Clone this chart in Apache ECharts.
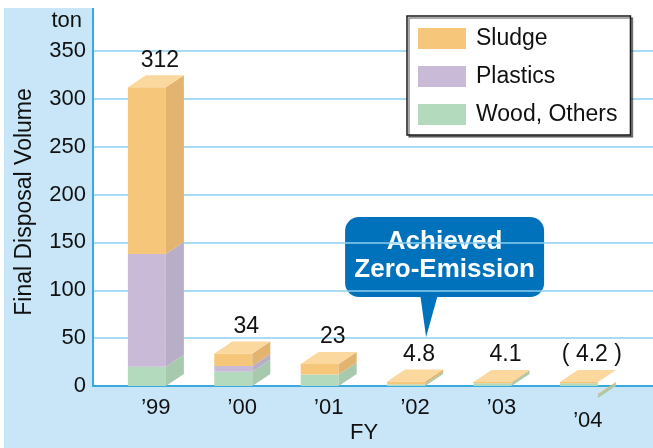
<!DOCTYPE html>
<html>
<head>
<meta charset="utf-8">
<script src="https://cdn.jsdelivr.net/npm/echarts@6/dist/echarts.min.js"></script>
<style>
  html, body { margin: 0; padding: 0; background: #fff; }
  #chart { width: 653px; height: 448px; }
</style>
</head>
<body>
<div id="chart"></div>
<script>
// Final disposal volume (ton) by fiscal year, split by waste type
const years = ['’99', '’00', '’01', '’02', '’03', '’04'];
const sludge = [174, 13, 11, 2.9, 1.2, 1.4];
const plastics = [118, 6, 0, 0, 0, 0];
const wood = [20, 15, 12, 1.9, 2.9, 2.8];
// provisional figures are shown in parentheses
const provisional = [false, false, false, false, false, true];
const yMin = 0, yMax = 350, yStep = 50;
const zeroEmissionYear = 3;

const FONT = '"Liberation Sans", Arial, Helvetica, sans-serif';
const FRONT = 38;    // front face width
const DX = 18;       // depth offset, x
const DY = 12;       // depth offset, y
const BREAK_DROP = 12;

const palette = {
  'Sludge':       { front: '#f6c77a', side: '#e2b46f' },
  'Plastics':     { front: '#c9bbd8', side: '#b9aec8' },
  'Wood, Others': { front: '#b4dabd', side: '#a7c9ad' }
};
const topColor = '#fbd89d';

// stack the layers bottom-up: wood, plastics, sludge
const layers = [['Wood, Others', wood], ['Plastics', plastics], ['Sludge', sludge]];
const base = years.map(() => 0);
const layerData = layers.map(([name, vals]) => {
  const d = vals.map((v, i) => {
    const item = [i, base[i], base[i] + v];
    base[i] += v;
    return item;
  });
  return [name, d];
});
const totals = base.map(t => parseFloat(t.toFixed(1)));

function faceGeom(api, i, lo, hi) {
  const pLo = api.coord([i, lo]);
  const yHi = api.coord([i, hi])[1];
  const x0 = pLo[0] - (FRONT + DX) / 2;
  return { x0: x0, x1: x0 + FRONT, yLo: pLo[1], yHi: yHi, cx: pLo[0] };
}

function layerRenderer(colors) {
  return function (params, api) {
    const i = api.value(0), lo = api.value(1), hi = api.value(2);
    if (!(hi > lo)) return null;
    const g = faceGeom(api, i, lo, hi);
    const s = provisional[i] ? BREAK_DROP : 0;
    return {
      type: 'group',
      children: [
        { type: 'rect', shape: { x: g.x0, y: g.yHi, width: FRONT, height: g.yLo - g.yHi },
          style: { fill: colors.front } },
        { type: 'polygon',
          shape: { points: [[g.x1, g.yHi + s], [g.x1 + DX, g.yHi - DY + s], [g.x1 + DX, g.yLo - DY + s], [g.x1, g.yLo + s]] },
          style: { fill: colors.side } }
      ]
    };
  };
}

function topRenderer(params, api) {
  const i = api.value(0), t = api.value(1);
  const g = faceGeom(api, i, 0, t);
  const txt = provisional[i] ? '( ' + totals[i] + ' )' : String(totals[i]);
  return {
    type: 'group',
    children: [
      { type: 'polygon',
        shape: { points: [[g.x0, g.yHi], [g.x0 + DX, g.yHi - DY], [g.x1 + DX, g.yHi - DY], [g.x1, g.yHi]] },
        style: { fill: topColor } },
      { type: 'text', x: g.cx + 4, y: g.yHi - 27,
        style: { text: txt, fill: '#111', fontSize: 23, fontFamily: FONT, align: 'center', verticalAlign: 'middle' } }
    ]
  };
}

const series = layerData.map(([name, d]) => ({
  name: name,
  type: 'custom',
  xAxisIndex: 1, yAxisIndex: 1,
  encode: { x: 0, y: [1, 2] },
  itemStyle: { color: palette[name].front },
  renderItem: layerRenderer(palette[name]),
  data: d,
  z: 3
}));
series.push({
  name: 'total',
  type: 'custom',
  xAxisIndex: 1, yAxisIndex: 1,
  encode: { x: 0, y: 1 },
  renderItem: topRenderer,
  data: totals.map((t, i) => [i, t]),
  z: 4
});

const baseGraphics = [
  { id: 'panel', type: 'rect', z: -20, silent: true,
    shape: { x: 4, y: 8, width: 649, height: 440 }, style: { fill: '#c8e6f8' } },
  { id: 'plot', type: 'rect', z: -19, silent: true,
    shape: { x: 93, y: 0, width: 560, height: 386 }, style: { fill: '#fff' } },
  { id: 'axisExt', type: 'line', z: 1, silent: true,
    shape: { x1: 93, y1: 8, x2: 93, y2: 52 }, style: { stroke: '#3aa9e0', lineWidth: 2 } },
  { id: 'unit', type: 'text', x: 82, y: 21, silent: true,
    style: { text: 'ton', fill: '#111', fontSize: 22, fontFamily: FONT, align: 'right', verticalAlign: 'middle' } },
  { id: 'ytitle', type: 'text', x: 25, y: 202, rotation: Math.PI / 2, silent: true,
    style: { text: 'Final Disposal Volume', fill: '#111', fontSize: 23, fontFamily: FONT, align: 'center', verticalAlign: 'middle' } },
  { id: 'xtitle', type: 'text', x: 364, y: 433, silent: true,
    style: { text: 'FY', fill: '#111', fontSize: 22, fontFamily: FONT, align: 'center', verticalAlign: 'middle' } }
];

// callout pointing at the year zero emission was reached
function callout(ax, ay) {
  return { id: 'callout', type: 'group', z: 50, silent: true,
    children: [
      { type: 'rect', shape: { x: ax - 70, y: ay - 169, width: 199, height: 80, r: 14 },
        style: { fill: '#0071bb' } },
      { type: 'polygon', shape: { points: [[ax + 5, ay - 92], [ax + 23, ay - 92], [ax + 11, ay - 49]] },
        style: { fill: '#0071bb' } },
      { type: 'text', x: ax + 29.5, y: ay - 144,
        style: { text: 'Achieved', fill: '#fff', fontSize: 26, fontWeight: 'bold', fontFamily: FONT, align: 'center', verticalAlign: 'middle' } },
      { type: 'text', x: ax + 29.5, y: ay - 116,
        style: { text: 'Zero-Emission', fill: '#fff', fontSize: 26, fontWeight: 'bold', fontFamily: FONT, align: 'center', verticalAlign: 'middle' } }
    ] };
}

function buildOption(extraGraphics) {
  return {
    animation: false,
    backgroundColor: '#fff',
    textStyle: { fontFamily: FONT },
    grid: [
      { left: 93, right: 0, top: 51, bottom: 62, outerBoundsMode: 'none', containLabel: false },
      { left: 112.7, right: 21.9, top: 51, bottom: 62, outerBoundsMode: 'none', containLabel: false }
    ],
    xAxis: [
      { type: 'value', gridIndex: 0, min: 0, max: 1,
        axisLine: { show: true, lineStyle: { color: '#3aa9e0', width: 2 } },
        axisTick: { show: false }, axisLabel: { show: false }, splitLine: { show: false } },
      { type: 'category', gridIndex: 1,
        data: years.map((y, i) => provisional[i]
          ? { value: y, textStyle: { padding: [13, 0, 0, 0] } }
          : y),
        axisLine: { show: false }, axisTick: { show: false },
        axisLabel: { fontSize: 22, color: '#111', margin: 11, fontFamily: FONT } }
    ],
    yAxis: [
      { type: 'value', gridIndex: 0, min: yMin, max: yMax, interval: yStep,
        axisLine: { show: true, lineStyle: { color: '#3aa9e0', width: 2 } },
        axisTick: { show: false },
        axisLabel: { fontSize: 22, color: '#111', margin: 7, fontFamily: FONT },
        splitLine: { show: true, lineStyle: { color: '#8dcff0', width: 1.5 } } },
      { type: 'value', gridIndex: 1, min: yMin, max: yMax, interval: yStep, show: false }
    ],
    legend: {
      orient: 'vertical', left: 407, top: 16,
      data: ['Sludge', 'Plastics', 'Wood, Others'],
      icon: 'rect', itemWidth: 48, itemHeight: 21, itemGap: 15,
      padding: [11, 13, 9, 11],
      backgroundColor: '#fff', borderColor: '#1a1a1a', borderWidth: 1.5,
      shadowColor: 'rgba(0,0,0,0.45)', shadowOffsetX: 2, shadowOffsetY: 2, shadowBlur: 0,
      selectedMode: false,
      textStyle: { fontSize: 23, color: '#111', fontFamily: FONT, padding: [0, 0, 0, 5] }
    },
    graphic: { elements: baseGraphics.concat(extraGraphics) },
    series: series
  };
}

const chart = echarts.init(document.getElementById('chart'), null, { renderer: 'canvas' });
chart.setOption(buildOption([]));
const ax = chart.convertToPixel({ xAxisIndex: 1 }, zeroEmissionYear);
const ay = chart.convertToPixel({ yAxisIndex: 1 }, 0);
chart.setOption(buildOption([callout(ax, ay)]), true);
</script>
</body>
</html>
